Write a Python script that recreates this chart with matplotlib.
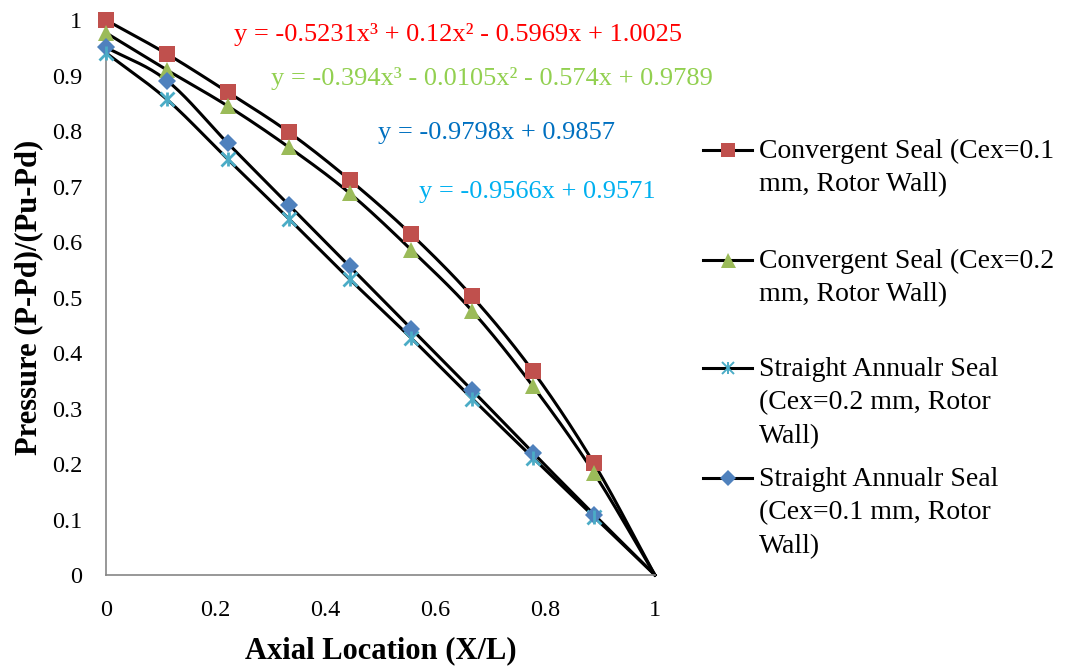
import numpy as np
import matplotlib
matplotlib.use("Agg")
import matplotlib.pyplot as plt
from matplotlib.lines import Line2D

plt.rcParams["font.family"] = ["Liberation Serif", "DejaVu Serif"]

# axial positions (X/L) and normalised pressure for each seal
x_pos = [0, 0.111, 0.222, 0.333, 0.444, 0.556, 0.667, 0.778, 0.889, 1.0]
conv_01 = [1.000, 0.939, 0.870, 0.798, 0.712, 0.614, 0.502, 0.367, 0.201, 0.0]
conv_02 = [0.977, 0.910, 0.845, 0.771, 0.688, 0.586, 0.476, 0.340, 0.184, 0.0]
straight_02 = [0.941, 0.857, 0.749, 0.642, 0.533, 0.427, 0.318, 0.211, 0.105, 0.0]
straight_01 = [0.951, 0.891, 0.778, 0.667, 0.556, 0.444, 0.333, 0.220, 0.109, 0.0]

labels = ["Convergent Seal (Cex=0.1\nmm, Rotor Wall)",
          "Convergent Seal (Cex=0.2\nmm, Rotor Wall)",
          "Straight Annualr Seal\n(Cex=0.2 mm, Rotor\nWall)",
          "Straight Annualr Seal\n(Cex=0.1 mm, Rotor\nWall)"]
eqs = ["y = -0.5231x³ + 0.12x² - 0.5969x + 1.0025",
       "y = -0.394x³ - 0.0105x² - 0.574x + 0.9789",
       "y = -0.9798x + 0.9857",
       "y = -0.9566x + 0.9571"]
eq_colors = ["#FF0000", "#92D050", "#0070C0", "#00B0F0"]


def smooth(x, y, n=20):
    # catmull-rom through the points, like excel's smoothed lines
    x = np.asarray(x, float); y = np.asarray(y, float)
    px = np.r_[2*x[0]-x[1], x, 2*x[-1]-x[-2]]
    py = np.r_[2*y[0]-y[1], y, 2*y[-1]-y[-2]]
    ox, oy = [], []
    t = np.linspace(0, 1, n, endpoint=False)
    for i in range(1, len(px)-2):
        for arr, out in ((px, ox), (py, oy)):
            p0, p1, p2, p3 = arr[i-1:i+3]
            out.extend(0.5*((2*p1) + (-p0+p2)*t + (2*p0-5*p1+4*p2-p3)*t**2
                            + (-p0+3*p1-3*p2+p3)*t**3))
    ox.append(x[-1]); oy.append(y[-1])
    return np.array(ox), np.array(oy)


fig = plt.figure(figsize=(10.67, 6.66), dpi=100)
ax = fig.add_axes([0.0993, 0.1366, 0.5145, 0.8333])

series = [
    (conv_01, dict(marker="s", color="#C0504D", ms=11)),
    (conv_02, dict(marker="^", color="#9BBB59", ms=12)),
    (straight_02, dict(marker="x", color="#4BACC6", ms=9.5, mew=2)),
    (straight_01, dict(marker="D", color="#4F81BD", ms=9)),
]
for ys, st in series:
    sx, sy = smooth(x_pos, ys)
    ax.plot(sx, sy, color="black", lw=2.2, zorder=2, clip_on=False)
    ax.plot(x_pos[:-1], ys[:-1], ls="none", marker=st["marker"], color=st["color"],
            ms=st["ms"], mew=st.get("mew", 0), zorder=3, clip_on=False)
# star marker for the straight seal 0.2 mm: add a vertical bar on top of the x
ax.plot(x_pos[:-1], straight_02[:-1], ls="none", marker="|", color="#4BACC6",
        ms=9.5, mew=2, zorder=3, clip_on=False)

ax.set_xlim(0, 1)
ax.set_ylim(0, 1)
ax.set_xticks(np.arange(0, 1.01, 0.2))
ax.set_yticks(np.arange(0, 1.01, 0.1))
ax.xaxis.set_major_formatter(plt.FuncFormatter(lambda v, p: f"{v:g}"))
ax.yaxis.set_major_formatter(plt.FuncFormatter(lambda v, p: f"{round(v, 1):g}"))
ax.tick_params(length=0, labelsize=17.5, pad=17)
ax.tick_params(axis="x", pad=18)
for s in ["top", "right"]:
    ax.spines[s].set_visible(False)
for s in ["left", "bottom"]:
    ax.spines[s].set_color("#868686")
    ax.spines[s].set_linewidth(1.2)

ax.set_xlabel("Axial Location (X/L)", fontsize=22, fontweight="bold", labelpad=11)
ax.set_ylabel("Pressure (P-Pd)/(Pu-Pd)", fontsize=22, fontweight="bold", labelpad=6)

# trendline equations
eq_pos = [(458, 35), (492, 78), (496, 133), (537, 192)]
for (px, py), txt, c in zip(eq_pos, eqs, eq_colors):
    fig.text(px/1067, 1 - py/666, txt, color=c, fontsize=19, ha="center", va="center")

# legend drawn beside the plot
leg_y = [150, 260, 368, 478]
for (ys, st), lab, ly in zip(series, labels, leg_y):
    yf = 1 - ly/666
    fig.add_artist(Line2D([703/1067, 752/1067], [yf, yf], color="black", lw=2.2))
    fig.add_artist(Line2D([727.5/1067], [yf], marker=st["marker"], color=st["color"],
                          ms=st["ms"]*0.9, mew=st.get("mew", 0)*0.7, ls="none"))
    if st["marker"] == "x":
        fig.add_artist(Line2D([727.5/1067], [yf], marker="|", color=st["color"],
                              ms=st["ms"]*0.9, mew=1.4, ls="none"))
    nl = lab.count("\n")
    fig.text(759/1067, 1 - (ly + 1 + nl*17)/666, lab, fontsize=20, ha="left",
             va="center", linespacing=1.46)

fig.savefig("out.png", dpi=100)
